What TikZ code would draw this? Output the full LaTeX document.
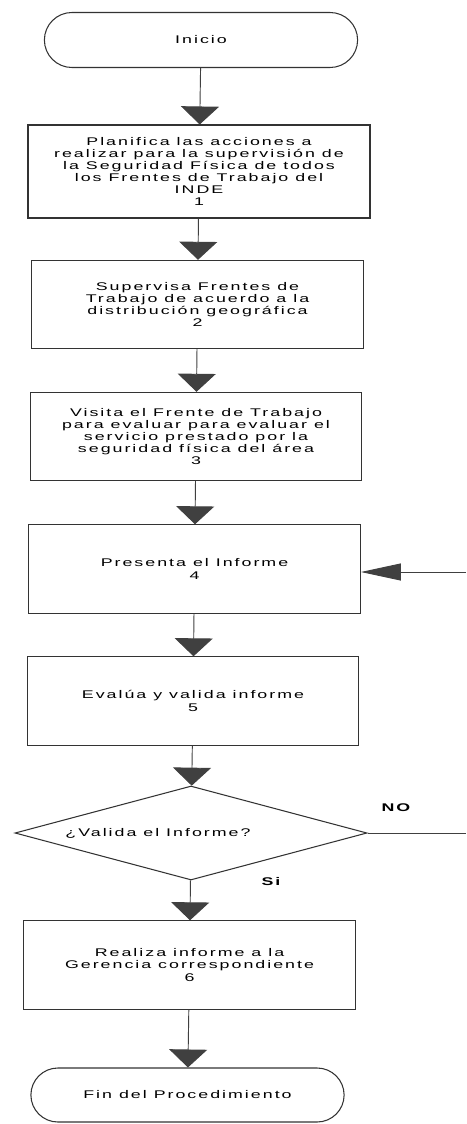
\documentclass[tikz,border=0pt]{standalone}
\usepackage{fontspec}
\setmainfont{Liberation Sans}[FakeStretch=1.6,LetterSpace=18]
\usetikzlibrary{
	shapes.geometric,
	shapes.misc,
	arrows.meta,
	positioning
}

\begin{document}
\begin{tikzpicture}[
				x=0.03cm, y=-0.03cm,
				box/.style={
					rectangle, draw=black!80, line width=0.9pt,
					minimum width=9.95cm, minimum height=2.65cm,
					align=center, text=black,
					font=\fontsize{9.5}{10.4}\selectfont
				},
				bigbox/.style={
					box, minimum width=10.26cm, minimum height=2.79cm
				},
				terminal/.style={
					rounded rectangle, draw=black!80, line width=0.9pt,
					minimum width=9.63cm, minimum height=1.65cm,
					align=center, text=black,
					font=\fontsize{9.5}{10.4}\selectfont
				},
				decision/.style={
					diamond, draw=black!80, line width=0.9pt, aspect=3.7,
					minimum width=10.56cm, minimum height=2.82cm,
					inner sep=0pt
				},
				answer/.style={
					font=\bfseries\fontsize{9.5}{10.4}\selectfont, text=black
				},
				arrow/.style={
					-{Triangle[width=1.14cm, length=0.54cm]},
					line width=0.8pt, draw=black!75, color=black!75
				},
				backarrow/.style={
					-{Triangle[width=0.51cm, length=1.2cm]},
					line width=0.8pt, draw=black!75, color=black!75
				},
				]
				\useasboundingbox (0,0) rectangle (466,1124);
				
				%start
				\node[terminal] (inicio) at (201,40) {Inicio};
				
				%steps 1 to 3
				\node[bigbox] (plan) at (199,171.5) {Planifica las acciones a\\realizar para la supervisión de\\la Seguridad Física de todos\\los Frentes de Trabajo del\\INDE\\1};
				\draw[arrow] (inicio) -- (plan);
				
				\node[box] (superv) at (197.5,304.5) {Supervisa Frentes de\\Trabajo de acuerdo a la\\distribución geográfica\\2};
				\draw[arrow] (plan) -- (superv);
				
				\node[box] (visita) at (196,436.5) {Visita el Frente de Trabajo\\para evaluar para evaluar el\\servicio prestado por la\\seguridad física del área\\3};
				\draw[arrow] (superv) -- (visita);
				
				%steps 4 and 5
				\node[box] (presenta) at (194.5,569) {Presenta el Informe\\4};
				\draw[arrow] (visita) -- (presenta);
				
				\node[box] (evalua) at (193,701) {Evalúa y valida informe\\5};
				\draw[arrow] (presenta) -- (evalua);
				
				%decision
				\node[decision, label={[xshift=-0.99cm, text=black, font=\fontsize{9.5}{10.4}\selectfont]center:¿Valida el Informe?}] (valida) at (191,833) {};
				\draw[arrow] (evalua) -- (valida);
				
				\node[answer] (lblno) at (396,808) {NO};
				\node[answer] (lblsi) at (271,882) {Si};
				
				\coordinate (noend) at (466,833);
				\coordinate (noback) at (466,572);
				\draw[line width=0.8pt, black!75] (valida.east) -- (noend);
				\draw[backarrow] (noback) -- (presenta.east |- noback);
				
				%step 6 and end
				\node[box] (gerencia) at (189.5,965) {Realiza informe a la\\Gerencia correspondiente\\6};
				\draw[arrow] (valida) -- (gerencia);
				
				\node[terminal, minimum height=1.62cm] (fin) at (187.5,1095) {Fin del Procedimiento};
				\draw[arrow] (gerencia) -- (fin);
\end{tikzpicture}
\end{document}
